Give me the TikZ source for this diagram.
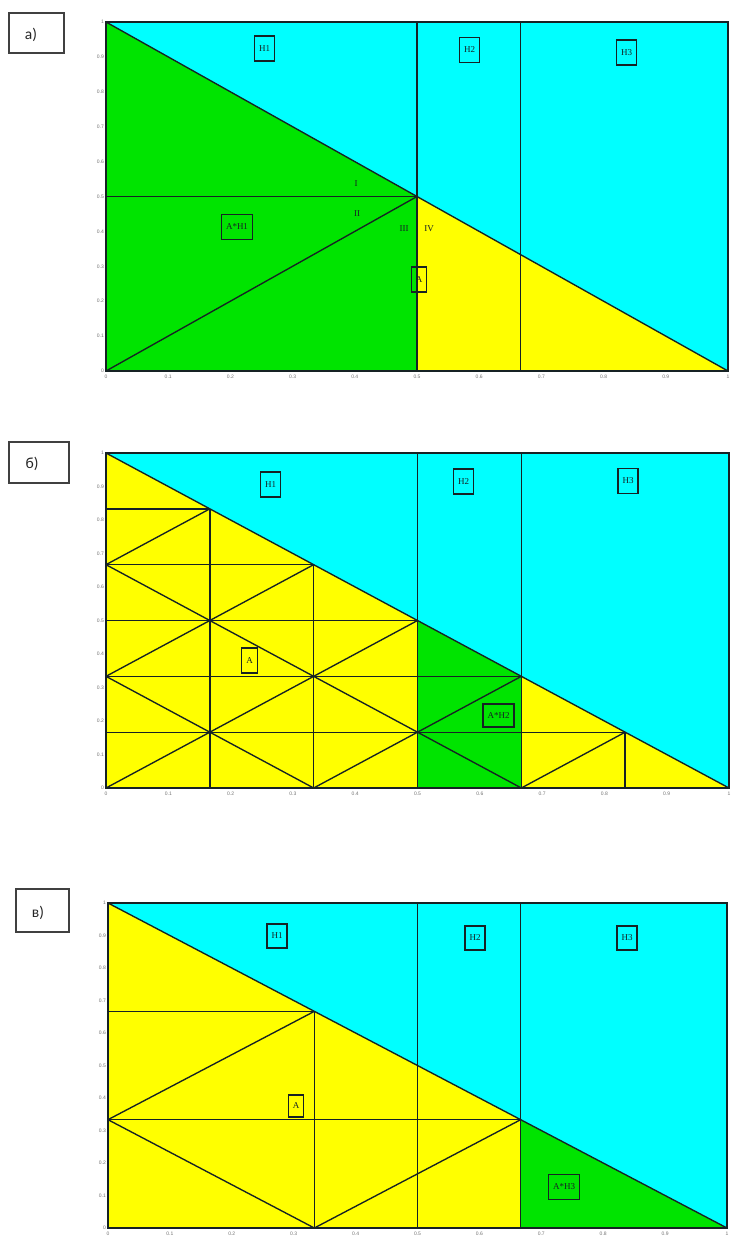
\documentclass[tikz,border=0pt]{standalone}
\usepackage{fontspec}
\setmainfont{Liberation Serif}
\newfontfamily\tagfont{Carlito}
\newfontfamily\tickfont{Liberation Sans}
\definecolor{cy}{RGB}{0,255,255}
\definecolor{gr}{RGB}{0,228,0}
\definecolor{ye}{RGB}{255,255,0}
\definecolor{ln}{RGB}{22,34,36}
\newcommand{\axticks}{%
  \foreach \v/\t in {0/0,0.1/0.1,0.2/0.2,0.3/0.3,0.4/0.4,0.5/0.5,0.6/0.6,0.7/0.7,0.8/0.8,0.9/0.9,1/1}{%
    \node[tk,anchor=east,xshift=-1.5pt] (ty\t) at (0,\v) {\t};
    \node[tk,anchor=north,yshift=-3pt] (tx\t) at (\v,0) {\t};
  }}
\begin{document}
\begin{tikzpicture}[x=1pt,y=-1pt,
  gl/.style={draw=ln,line width=1.35pt},
  frm/.style={draw=ln,line width=1.7pt},
  tagbox/.style={draw=black!75,line width=1.1pt,inner sep=0pt},
  tagtext/.style={font=\tagfont\fontsize{15.5}{15.5}\selectfont,inner sep=0pt,text=black!85},
  lbl/.style={draw=ln,line width=1.1pt,inner xsep=4.5pt,minimum height=25pt,font=\fontsize{9}{9}\selectfont,text=ln},
  rn/.style={font=\fontsize{9}{9}\selectfont,inner sep=0pt,text=ln},
  tk/.style={font=\tickfont\fontsize{5}{5}\selectfont,text=black!55,inner sep=0.5pt}
]
\useasboundingbox (0,0) rectangle (731,1243);
\fill[white] (0,0) rectangle (731,1243);

% ---------------- panel a ----------------
\node[tagbox,minimum width=55pt,minimum height=40pt] (taga) at (36.5,33) {};
\node[tagtext] (tagat) at (31,35) {а)};
\begin{scope}[shift={(106,371)},x={(622pt,0pt)},y={(0pt,349pt)}]
  \fill[cy] (0,0) rectangle (1,1);
  \fill[gr] (0,0) -- (0,1) -- (0.5,0.5) -- (0.5,0) -- cycle;
  \fill[ye] (0.5,0) -- (0.5,0.5) -- (1,0) -- cycle;
  \draw[gl] (0,1) -- (1,0);
  \draw[gl] (0.5,0) -- (0.5,1);
  \draw[gl] (2/3,0) -- (2/3,1);
  \draw[gl] (0,0.5) -- (0.5,0.5);
  \draw[gl] (0,0) -- (0.5,0.5);
  \draw[frm] (0,0) rectangle (1,1);
  \axticks
\end{scope}
\node[lbl] (aH1) at (264.5,48.5) {H1};
\node[lbl] (aH2) at (469.5,50) {H2};
\node[lbl] (aH3) at (626.5,52.5) {H3};
\node[lbl] (aAH1) at (237,227) {A*H1};
\node[lbl] (aA) at (419,279.5) {A};
\node[rn] (aI) at (356,184) {I};
\node[rn] (aII) at (357,214) {II};
\node[rn] (aIII) at (404,229) {III};
\node[rn] (aIV) at (429,229) {IV};

% ---------------- panel b ----------------
\node[tagbox,minimum width=60pt,minimum height=41pt] (tagb) at (39,462.5) {};
\node[tagtext] (tagbt) at (32,464) {б)};
\begin{scope}[shift={(106,788)},x={(623pt,0pt)},y={(0pt,335pt)}]
  \fill[cy] (0,0) rectangle (1,1);
  \fill[ye] (0,0) -- (0,1) -- (1,0) -- cycle;
  \fill[gr] (0.5,0) -- (0.5,0.5) -- (2/3,1/3) -- (2/3,0) -- cycle;
  \foreach \j in {1,...,5}{\draw[gl] (0,\j/6) -- ({(6-\j)/6},\j/6);}
  \foreach \i in {1,2,5}{\draw[gl] (\i/6,0) -- (\i/6,{(6-\i)/6});}
  \foreach \i in {0,...,4}{
    \foreach \j in {0,...,4}{
      \pgfmathtruncatemacro\s{\i+\j}
      \ifnum\s<5
        \ifodd\s
          \draw[gl] ({(\i+1)/6},\j/6) -- (\i/6,{(\j+1)/6});
        \else
          \draw[gl] (\i/6,\j/6) -- ({(\i+1)/6},{(\j+1)/6});
        \fi
      \fi
    }
  }
  \draw[gl] (0,1) -- (1,0);
  \draw[gl] (0.5,0) -- (0.5,1);
  \draw[gl] (2/3,0) -- (2/3,1);
  \draw[frm] (0,0) rectangle (1,1);
  \axticks
\end{scope}
\node[lbl] (bH1) at (270.5,484.5) {H1};
\node[lbl] (bH2) at (463.5,481.5) {H2};
\node[lbl] (bH3) at (628,481) {H3};
\node[lbl] (bA) at (249.5,660.5) {A};
\node[lbl,minimum height=23pt] (bAH2) at (498.5,715.5) {A*H2};

% ---------------- panel c ----------------
\node[tagbox,minimum width=53pt,minimum height=43pt] (tagc) at (42.5,910.5) {};
\node[tagtext] (tagct) at (38,913) {в)};
\begin{scope}[shift={(108,1228)},x={(619pt,0pt)},y={(0pt,325pt)}]
  \fill[cy] (0,0) rectangle (1,1);
  \fill[ye] (0,0) -- (0,1) -- (1,0) -- cycle;
  \fill[gr] (2/3,0) -- (2/3,1/3) -- (1,0) -- cycle;
  \draw[gl] (0,2/3) -- (1/3,2/3);
  \draw[gl] (0,1/3) -- (2/3,1/3);
  \draw[gl] (1/3,0) -- (1/3,2/3);
  \draw[gl] (0,1/3) -- (1/3,2/3);
  \draw[gl] (0,1/3) -- (1/3,0);
  \draw[gl] (1/3,0) -- (2/3,1/3);
  \draw[gl] (0,1) -- (1,0);
  \draw[gl] (0.5,0) -- (0.5,1);
  \draw[gl] (2/3,0) -- (2/3,1);
  \draw[frm] (0,0) rectangle (1,1);
  \axticks
\end{scope}
\node[lbl,minimum height=24pt] (cH1) at (277,936) {H1};
\node[lbl,minimum height=24pt] (cH2) at (475,938) {H2};
\node[lbl,minimum height=24pt] (cH3) at (627,938) {H3};
\node[lbl,minimum height=22pt] (cA) at (296,1106) {A};
\node[lbl] (cAH3) at (564,1187) {A*H3};
\end{tikzpicture}
\end{document}
